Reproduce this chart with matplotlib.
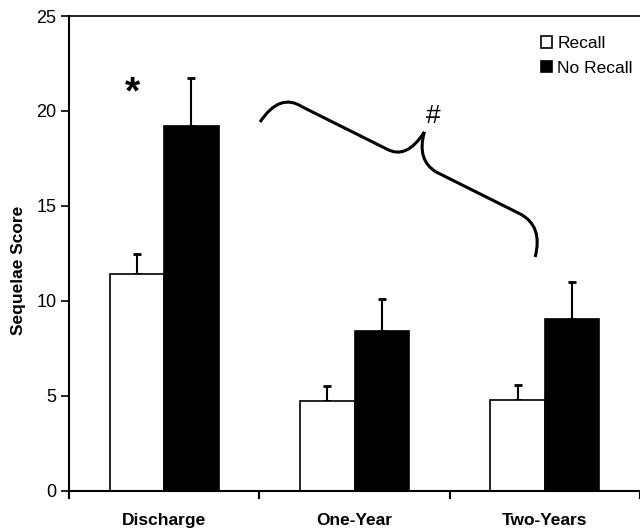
import matplotlib
matplotlib.use("Agg")
import matplotlib.pyplot as plt
import numpy as np
from matplotlib.path import Path
from matplotlib.patches import PathPatch

plt.rcParams['font.family'] = ['Liberation Sans', 'DejaVu Sans']

categories = ["Discharge", "One-Year", "Two-Years"]
recall = [11.4, 4.72, 4.76]
recall_err = [1.07, 0.80, 0.81]
no_recall = [19.22, 8.41, 9.04]
no_recall_err = [2.49, 1.70, 1.95]
series_labels = ["Recall", "No Recall"]
yticks = [0, 5, 10, 15, 20, 25]

W, H = 640, 529
fig = plt.figure(figsize=(W / 100, H / 100), dpi=100)
ax = fig.add_axes([69 / W, 1 - 490.7 / H, (W - 69) / W, (490.7 - 16) / H])

x = np.arange(len(categories))
bw = 0.286
ax.bar(x - bw / 2, recall, bw, color='white', edgecolor='black', linewidth=1.2,
       label=series_labels[0], zorder=2)
ax.bar(x + bw / 2, no_recall, bw, color='black', edgecolor='black', linewidth=1.2,
       label=series_labels[1], zorder=2)
ax.errorbar(x - bw / 2, recall, yerr=[np.zeros(3), recall_err], fmt='none',
            ecolor='black', elinewidth=1.5, capsize=2.6, capthick=2.0, zorder=1)
ax.errorbar(x + bw / 2, no_recall, yerr=[np.zeros(3), no_recall_err], fmt='none',
            ecolor='black', elinewidth=1.5, capsize=2.6, capthick=2.0, zorder=1)

ax.set_xlim(-0.5, 2.469)
ax.set_ylim(0, 25)
ax.set_yticks(yticks)
ax.set_yticklabels([str(v) for v in yticks], fontsize=13)
ax.set_xticks(x)
ax.set_xticklabels(categories, fontsize=12.5, fontweight='bold')
ax.set_xticks([-0.5, 0.5, 1.5, 2.5], minor=True)
ax.tick_params(axis='x', which='major', length=0, pad=16)
ax.tick_params(axis='x', which='minor', length=6, width=1.5, direction='out')
ax.tick_params(axis='y', length=6, width=1.2, direction='out', pad=3)
ax.set_ylabel("Sequelae Score", fontsize=12.5, fontweight='bold', va='center')
ax.yaxis.set_label_coords((18 - 69) / (W - 69), (490.7 - 270) / (490.7 - 16))

ax.spines['right'].set_visible(False)
ax.spines['top'].set_linewidth(1.2)
for s in ['left', 'bottom']:
    ax.spines[s].set_linewidth(1.5)

def px(xp, yp):
    return ((xp - 69) / 192.3 - 0.5, (490.7 - yp) / 18.99)

pts_px = [(262, 122), (282, 92), (305, 107),
          (390, 149),
          (410, 160), (428, 132),
          (420, 160), (440, 172),
          (525, 214),
          (548, 226), (540, 257)]
codes = [Path.MOVETO, Path.CURVE3, Path.CURVE3,
         Path.LINETO,
         Path.CURVE3, Path.CURVE3,
         Path.CURVE3, Path.CURVE3,
         Path.LINETO,
         Path.CURVE3, Path.CURVE3]
verts = [px(a, b) for a, b in pts_px]
ax.add_patch(PathPatch(Path(verts, codes), facecolor='none', edgecolor='black',
                       linewidth=2.2, capstyle='butt', zorder=3))

hx, hy = px(437, 116)
ax.text(hx, hy, "#", fontsize=19, ha='center', va='center')
sx, sy = px(133, 93)
ax.text(sx, sy, "*", fontsize=28, fontweight='bold', ha='center', va='center')

leg = ax.legend(loc='upper left', bbox_to_anchor=(541 / W, 1 - 36 / H),
                bbox_transform=fig.transFigure,
                frameon=False, fontsize=12.5, handlelength=0.65, handleheight=0.65,
                handletextpad=0.3, labelspacing=0.55, borderaxespad=0, borderpad=0)

fig.savefig("out.png", dpi=100)
